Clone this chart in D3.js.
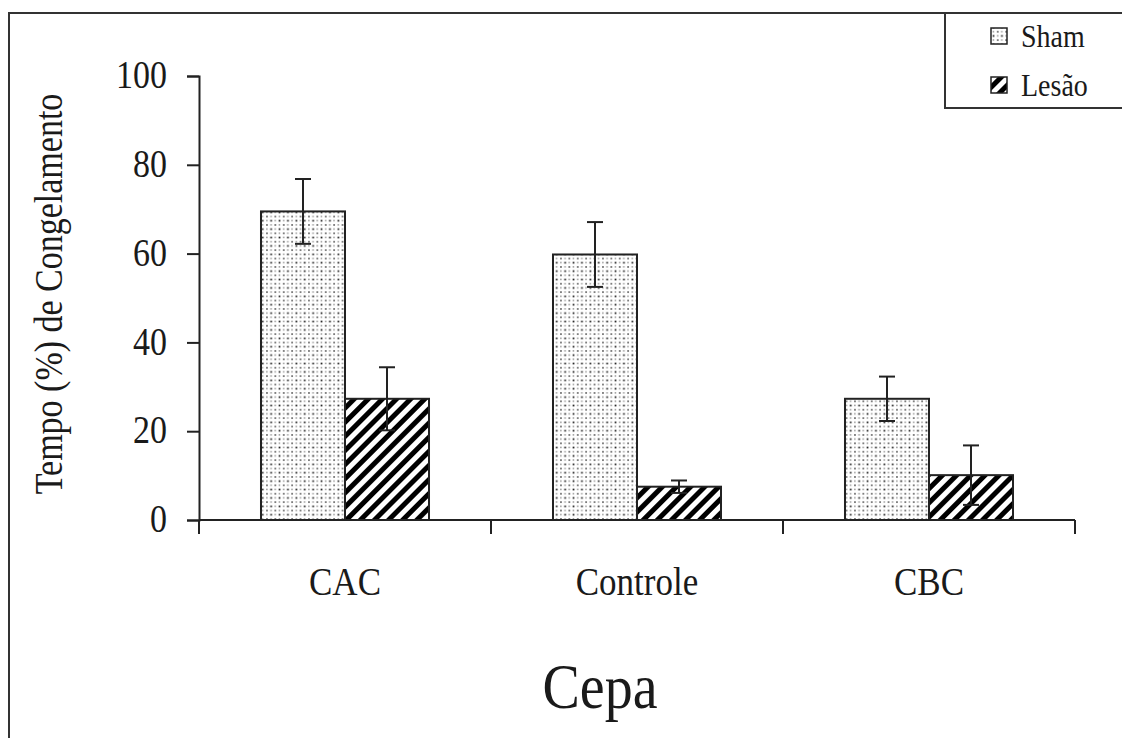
<!DOCTYPE html>
<meta charset="utf-8">
<style>
  body { margin: 0; background: #fff; }
  svg { display: block; }
  text { font-family: "Liberation Serif", "DejaVu Serif", serif; }
</style>
<svg width="1122" height="738"></svg>
<script src="https://d3js.org/d3.v7.min.js"></script>
<script>
// data
var categories = ["CAC", "Controle", "CBC"];
var series = ["Sham", "Lesão"];
var shamMean = [69.5, 59.8, 27.3];
var shamErr = [7.3, 7.3, 5.0];
var lesaoMean = [27.3, 7.5, 10.1];
var lesaoErr = [7.1, 1.4, 6.7];
var yTicks = [0, 20, 40, 60, 80, 100];

var rows = [];
categories.forEach(function(c, i) {
  rows.push({cat: c, s: "Sham", v: shamMean[i], e: shamErr[i]});
  rows.push({cat: c, s: "Lesão", v: lesaoMean[i], e: lesaoErr[i]});
});

var svg = d3.select("svg");
var ink = "#1a1a1a", serif = "Liberation Serif";
var stretch = 1.15; // glyphs in the scan are taller than they are wide

// draws a text stretched vertically around its baseline
function label(g, x, y, size, txt, anchor, rot) {
  return g.append("text")
    .attr("transform", "translate(" + x + "," + y + ")" + (rot ? " rotate(" + rot + ")" : "") + " scale(1," + stretch + ")")
    .attr("text-anchor", anchor || "start")
    .attr("font-family", serif).attr("font-size", size).attr("fill", ink).text(txt);
}

// patterns
var defs = svg.append("defs");
var dots = defs.append("pattern").attr("id", "dots").attr("patternUnits", "userSpaceOnUse")
  .attr("width", 8.4).attr("height", 8.4);
dots.append("rect").attr("width", 8.4).attr("height", 8.4).attr("fill", "#fff");
dots.append("rect").attr("x", 1.5).attr("y", 1.5).attr("width", 1.7).attr("height", 1.7).attr("fill", "#222");
dots.append("rect").attr("x", 5.7).attr("y", 5.7).attr("width", 1.7).attr("height", 1.7).attr("fill", "#666");
dots.append("rect").attr("x", 1.5).attr("y", 5.7).attr("width", 1.5).attr("height", 1.5).attr("fill", "#999");
dots.append("rect").attr("x", 5.7).attr("y", 1.5).attr("width", 1.5).attr("height", 1.5).attr("fill", "#999");

var stripes = defs.append("pattern").attr("id", "stripes").attr("patternUnits", "userSpaceOnUse")
  .attr("width", 10).attr("height", 10).attr("patternTransform", "rotate(45)");
stripes.append("rect").attr("width", 10).attr("height", 10).attr("fill", "#fff");
stripes.append("rect").attr("x", 0).attr("width", 5).attr("height", 10).attr("fill", "#000");

var fillOf = {"Sham": "url(#dots)", "Lesão": "url(#stripes)"};

// outer frame
svg.append("rect").attr("x", 9).attr("y", 13).attr("width", 1130).attr("height", 740)
  .attr("fill", "none").attr("stroke", "#333").attr("stroke-width", 2);

var x = d3.scaleBand().domain(categories).range([199, 1075]);
var xs = d3.scaleBand().domain(series).range([0, x.bandwidth()]).paddingOuter(0.738);
var y = d3.scaleLinear().domain([0, 100]).range([520, 76]);

// bars
svg.append("g").selectAll("rect").data(rows).join("rect")
  .attr("x", function(d) { return x(d.cat) + xs(d.s); })
  .attr("y", function(d) { return y(d.v); })
  .attr("width", xs.bandwidth())
  .attr("height", function(d) { return y(0) - y(d.v); })
  .attr("fill", function(d) { return fillOf[d.s]; })
  .attr("stroke", "#222").attr("stroke-width", 2);

// error bars
var eb = svg.append("g").attr("stroke", "#222").attr("stroke-width", 2);
rows.forEach(function(d) {
  var cx = x(d.cat) + xs(d.s) + xs.bandwidth() / 2;
  eb.append("line").attr("x1", cx).attr("x2", cx).attr("y1", y(d.v + d.e)).attr("y2", y(d.v - d.e));
  eb.append("line").attr("x1", cx - 8).attr("x2", cx + 8).attr("y1", y(d.v + d.e)).attr("y2", y(d.v + d.e));
  eb.append("line").attr("x1", cx - 8).attr("x2", cx + 8).attr("y1", y(d.v - d.e)).attr("y2", y(d.v - d.e));
});

// y axis
var yAxis = svg.append("g").attr("transform", "translate(199,0)")
  .call(d3.axisLeft(y).tickValues(yTicks).tickSize(12).tickPadding(20));
yAxis.select(".domain").attr("stroke", "#222").attr("stroke-width", 2);
yAxis.selectAll(".tick line").attr("stroke", "#222").attr("stroke-width", 2);
yAxis.selectAll(".tick text").attr("font-family", serif).attr("font-size", 34).attr("fill", ink)
  .attr("dy", "0.3em").attr("transform", "scale(1," + stretch + ")");

// x axis
var xg = svg.append("g");
xg.append("line").attr("x1", x.range()[0]).attr("x2", x.range()[1]).attr("y1", y(0)).attr("y2", y(0))
  .attr("stroke", "#222").attr("stroke-width", 2);
var bounds = categories.map(function(c) { return x(c); }).concat([x.range()[1]]);
xg.selectAll("line.b").data(bounds).join("line").attr("class", "b")
  .attr("x1", function(d) { return d; }).attr("x2", function(d) { return d; })
  .attr("y1", y(0)).attr("y2", y(0) + 14)
  .attr("stroke", "#222").attr("stroke-width", 2);
categories.forEach(function(c) {
  label(xg, x(c) + x.bandwidth() / 2, 595, 35, c, "middle");
});

// axis titles
label(svg, 62, 294, 34, "Tempo (%) de Congelamento", "middle", -90);
label(svg, 600, 708, 56, "Cepa", "middle");

// legend
var lg = svg.append("g");
lg.append("rect").attr("x", 945).attr("y", 13).attr("width", 200).attr("height", 95)
  .attr("fill", "#fff").attr("stroke", "#333").attr("stroke-width", 2);
series.forEach(function(s, i) {
  var ly = 28 + i * 49;
  lg.append("rect").attr("x", 991).attr("y", ly).attr("width", 16).attr("height", 16)
    .attr("fill", fillOf[s]).attr("stroke", "#222").attr("stroke-width", 1.5);
  label(lg, 1021, ly + 19, 28, s);
});
</script>
